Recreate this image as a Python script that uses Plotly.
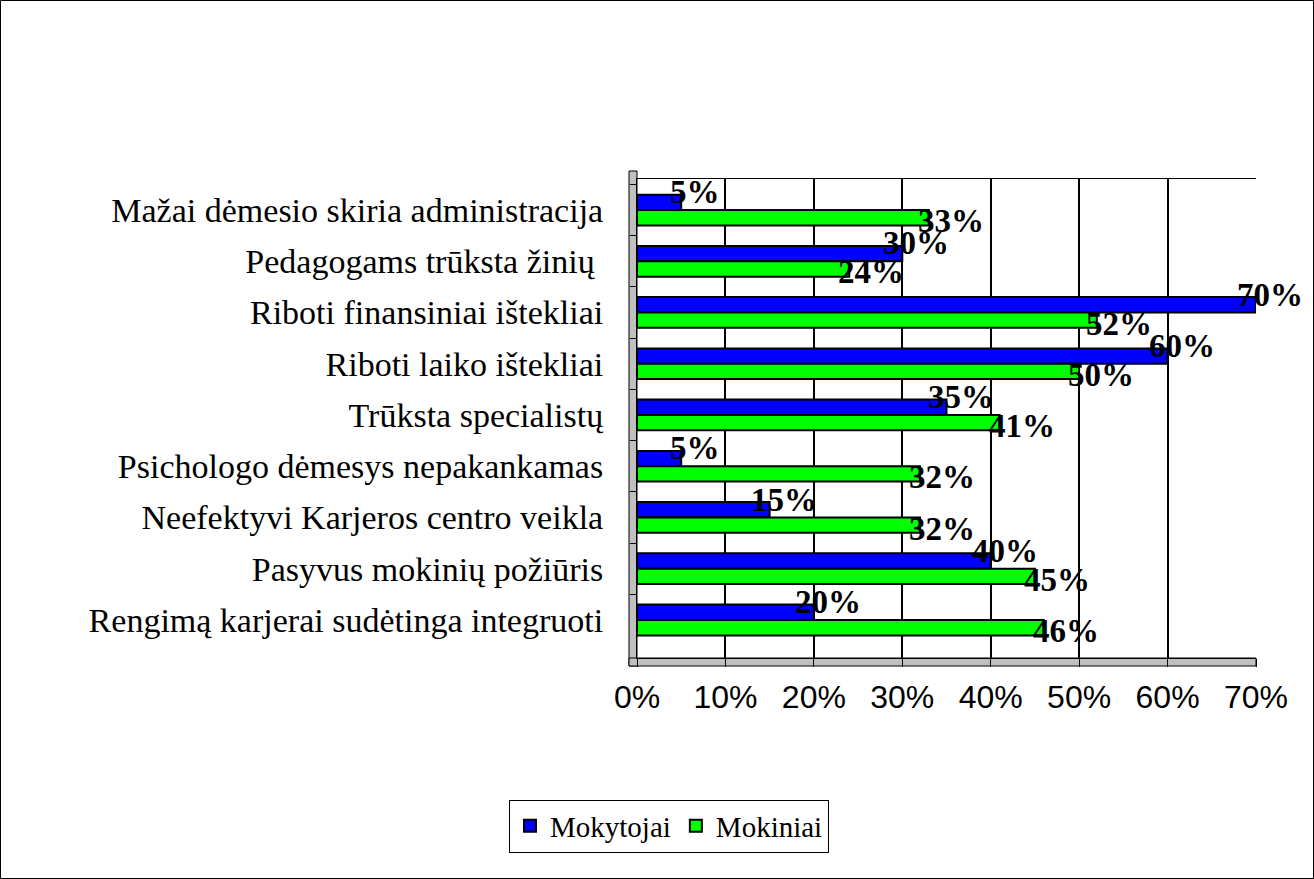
import plotly.graph_objects as go

categories = [
    "Mažai dėmesio skiria administracija",
    "Pedagogams trūksta žinių ",
    "Riboti finansiniai ištekliai",
    "Riboti laiko ištekliai",
    "Trūksta specialistų",
    "Psichologo dėmesys nepakankamas",
    "Neefektyvi Karjeros centro veikla",
    "Pasyvus mokinių požiūris",
    "Rengimą karjerai sudėtinga integruoti",
]
mokytojai = [5, 30, 70, 60, 35, 5, 15, 40, 20]
mokiniai = [33, 24, 52, 50, 41, 32, 32, 45, 46]
x_ticks = [0, 10, 20, 30, 40, 50, 60, 70]
x_ticklabels = ["0%", "10%", "20%", "30%", "40%", "50%", "60%", "70%"]

W, H = 1314, 879
L, R, T, B = 637, 58, 179, 221
pw, ph = W - L - R, H - T - B

fig = go.Figure()
fig.add_trace(go.Bar(
    y=categories, x=mokytojai, orientation="h", name="Mokytojai",
    marker=dict(color="#0000FF", line=dict(color="black", width=2)),
))
fig.add_trace(go.Bar(
    y=categories, x=mokiniai, orientation="h", name="Mokiniai",
    marker=dict(color="#00FF00", line=dict(color="black", width=2)),
))

label_font = dict(family="Liberation Serif", size=33, color="black", weight="bold")
annotations = []
for cat, v in zip(categories, mokytojai):
    annotations.append(dict(x=v, y=cat, xref="x", yref="y", text=f"{v}%",
                            showarrow=False, xanchor="center", yanchor="middle",
                            xshift=14, yshift=18, font=label_font))
for cat, v in zip(categories, mokiniai):
    annotations.append(dict(x=v, y=cat, xref="x", yref="y", text=f"{v}%",
                            showarrow=False, xanchor="center", yanchor="middle",
                            xshift=22, yshift=-11, font=label_font))

shapes = [
    # outer border
    dict(type="rect", xref="paper", yref="paper",
         x0=-L / pw + 0.5 / pw, x1=(W - L - 0.5) / pw, y0=-B / ph + 0.5 / ph, y1=1 + (T - 0.5) / ph,
         line=dict(color="black", width=1), fillcolor="rgba(0,0,0,0)", layer="below"),
    # left wall
    dict(type="rect", xref="paper", yref="paper",
         x0=-8 / pw, x1=0, y0=-8 / ph, y1=1 + 8 / ph,
         line=dict(color="black", width=1), fillcolor="#C0C0C0", layer="below"),
    # floor
    dict(type="rect", xref="paper", yref="paper",
         x0=-8 / pw, x1=1, y0=-8 / ph, y1=0,
         line=dict(color="black", width=1), fillcolor="#C0C0C0", layer="below"),
]

fig.update_layout(
    width=W, height=H,
    margin=dict(l=L, r=R, t=T, b=B),
    paper_bgcolor="white", plot_bgcolor="white",
    barmode="group", bargap=0.4, bargroupgap=0.0,
    font=dict(family="Liberation Serif", color="black"),
    showlegend=True,
    legend=dict(orientation="h", x=(669 - L) / pw, xanchor="center",
                y=-(826 - (T + ph)) / ph, yanchor="middle",
                bordercolor="black", borderwidth=1, bgcolor="white",
                font=dict(family="Liberation Serif", size=29, color="black"),
                itemwidth=30, tracegroupgap=0),
    shapes=shapes,
    annotations=annotations,
    xaxis=dict(range=[0, 70], tickvals=x_ticks, ticktext=x_ticklabels,
               showgrid=True, gridcolor="black", gridwidth=1.5,
               zeroline=False, showline=True, linecolor="black", mirror=True,
               ticks="outside", ticklen=8, tickcolor="black", ticklabelstandoff=3,
               tickfont=dict(family="Liberation Sans", size=32, color="black")),
    yaxis=dict(autorange="reversed", showgrid=False, zeroline=False,
               showline=True, linecolor="black",
               ticks="outside", ticklen=6, tickcolor="black", tickson="boundaries",
               tickfont=dict(family="Liberation Serif", size=34, color="black"),
               ticklabelstandoff=26),
)

fig.write_html("out.html", config={"displayModeBar": False},
               post_script="document.body.style.margin='0px';")
